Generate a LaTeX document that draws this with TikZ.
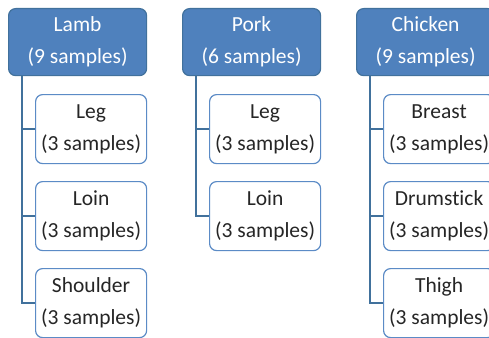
\documentclass[tikz,border=0pt]{standalone}
\usepackage{fontspec}
\setmainfont{Carlito}[Ligatures={NoCommon,NoRare,NoDiscretionary}]
\usetikzlibrary{calc}
\definecolor{hdrfill}{HTML}{4F81BD}
\definecolor{hdrline}{HTML}{41719C}
\definecolor{kidline}{HTML}{5B8BC6}
\tikzset{
  hdr/.style={draw=hdrline, fill=hdrfill, line width=1.2pt, rounded corners=7pt,
    minimum width=138pt, minimum height=67pt, inner sep=0pt, anchor=north west,
    text=white, align=center, font=\fontsize{21.5}{32}\selectfont},
  kid/.style={draw=kidline, fill=white, line width=1.2pt, rounded corners=7pt,
    minimum width=111pt, minimum height=69pt, inner sep=0pt, anchor=north west,
    text=black!85, align=center, font=\fontsize{21.5}{32}\selectfont},
  link/.style={draw=hdrline, line width=1.3pt}
}
\begin{document}
\begin{tikzpicture}[x=1pt,y=-1pt]
\useasboundingbox (0,0) rectangle (489,337);
\begin{scope}
\clip (0,0) rectangle (489,337);
% Lamb
\node[hdr] (lamb) at (8,8) {Lamb\\(9 samples)};
\node[kid] (lleg) at (35,94) {Leg\\(3 samples)};
\node[kid] (lloin) at (35,181) {Loin\\(3 samples)};
\node[kid] (lsh) at (35,268) {Shoulder\\(3 samples)};
\coordinate (lt) at ($(lamb.south west)+(14,0)$);
\draw[link] (lt) |- (lleg.west);
\draw[link] (lt) |- (lloin.west);
\draw[link] (lt) |- (lsh.west);
% Pork
\node[hdr] (pork) at (182,8) {Pork\\(6 samples)};
\node[kid] (pleg) at (209,94) {Leg\\(3 samples)};
\node[kid] (ploin) at (209,181) {Loin\\(3 samples)};
\coordinate (pt) at ($(pork.south west)+(14,0)$);
\draw[link] (pt) |- (pleg.west);
\draw[link] (pt) |- (ploin.west);
% Chicken
\node[hdr] (chick) at (356,8) {Chicken\\(9 samples)};
\node[kid] (cbr) at (383,94) {Breast\\(3 samples)};
\node[kid] (cdr) at (383,181) {Drumstick\\(3 samples)};
\node[kid] (cth) at (383,268) {Thigh\\(3 samples)};
\coordinate (ct) at ($(chick.south west)+(14,0)$);
\draw[link] (ct) |- (cbr.west);
\draw[link] (ct) |- (cdr.west);
\draw[link] (ct) |- (cth.west);
\end{scope}
\end{tikzpicture}
\end{document}
